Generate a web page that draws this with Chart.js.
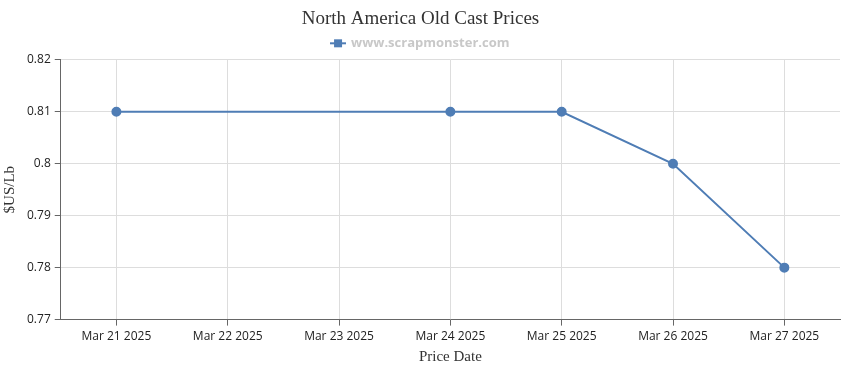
<!DOCTYPE html>
<html>
<head>
<meta charset="utf-8">
<script src="https://cdn.jsdelivr.net/npm/chart.js@4"></script>
<style>
  html, body { margin: 0; padding: 0; background: #fff; }
  #wrap { width: 850px; height: 370px; }
</style>
</head>
<body>
<div id="wrap"><canvas id="chart" width="850" height="370"></canvas></div>
<script>
// Data
const priceDates = ['Mar 21 2025', 'Mar 22 2025', 'Mar 23 2025', 'Mar 24 2025', 'Mar 25 2025', 'Mar 26 2025', 'Mar 27 2025'];
const prices = [0.81, null, null, 0.81, 0.81, 0.80, 0.78];
const yMin = 0.77;
const yMax = 0.82;
const yStep = 0.01;

const lineColor = '#4f7db5';

// legend marker: short line with a square on it
function legendMarker() {
    const c = document.createElement('canvas');
    c.width = 16; c.height = 10;
    const g = c.getContext('2d');
    g.strokeStyle = lineColor;
    g.lineWidth = 2;
    g.beginPath();
    g.moveTo(0, 5); g.lineTo(16, 5);
    g.stroke();
    g.fillStyle = lineColor;
    g.fillRect(4, 1, 8, 8);
    return c;
}

new Chart(document.getElementById('chart'), {
    type: 'line',
    data: {
        labels: priceDates,
        datasets: [{
            label: 'www.scrapmonster.com',
            data: prices,
            borderColor: lineColor,
            backgroundColor: lineColor,
            borderWidth: 2,
            pointRadius: 4,
            pointHoverRadius: 5,
            spanGaps: true,
            tension: 0
        }]
    },
    options: {
        responsive: false,
        animation: false,
        layout: { padding: { left: 1, right: 10, top: 3, bottom: 4 } },
        plugins: {
            title: {
                display: true,
                text: 'North America Old Cast Prices',
                color: '#333',
                font: { family: "'Liberation Serif', 'DejaVu Serif', serif", size: 19, weight: 'normal' },
                padding: { top: 5, bottom: 0 }
            },
            legend: {
                display: true,
                labels: {
                    color: '#c8c8c8',
                    font: { family: "'Open Sans', 'DejaVu Sans', sans-serif", size: 13, weight: 'bold' },
                    usePointStyle: true,
                    padding: 6,
                    generateLabels: (chart) => chart.data.datasets.map((ds, i) => ({
                        text: ds.label,
                        pointStyle: legendMarker(),
                        fontColor: '#c8c8c8',
                        datasetIndex: i,
                        hidden: false,
                        lineWidth: 0
                    }))
                }
            },
            tooltip: { enabled: false }
        },
        scales: {
            x: {
                offset: true,
                grid: {
                    offset: false,
                    color: '#dddddd',
                    drawTicks: true,
                    tickLength: 6,
                    tickColor: '#666'
                },
                border: { color: '#666', width: 1 },
                ticks: {
                    color: '#222',
                    font: { family: "'Open Sans', 'DejaVu Sans', sans-serif", size: 12 },
                    maxRotation: 0,
                    padding: 4
                },
                title: {
                    display: true,
                    text: 'Price Date',
                    color: '#333',
                    font: { family: "'Liberation Serif', 'DejaVu Serif', serif", size: 15 },
                    padding: { top: 0, bottom: 0 }
                }
            },
            y: {
                min: yMin,
                max: yMax,
                grid: {
                    color: '#dddddd',
                    tickLength: 6,
                    tickColor: '#666'
                },
                border: { color: '#666', width: 1 },
                ticks: {
                    stepSize: yStep,
                    color: '#222',
                    font: { family: "'Open Sans', 'DejaVu Sans', sans-serif", size: 12 },
                    padding: 4,
                    callback: (v) => parseFloat(v.toFixed(2)).toString()
                },
                title: {
                    display: true,
                    text: '$US/Lb',
                    color: '#333',
                    font: { family: "'Liberation Serif', 'DejaVu Serif', serif", size: 15 },
                    padding: { top: 0, bottom: 4 }
                }
            }
        }
    }
});
</script>
</body>
</html>
